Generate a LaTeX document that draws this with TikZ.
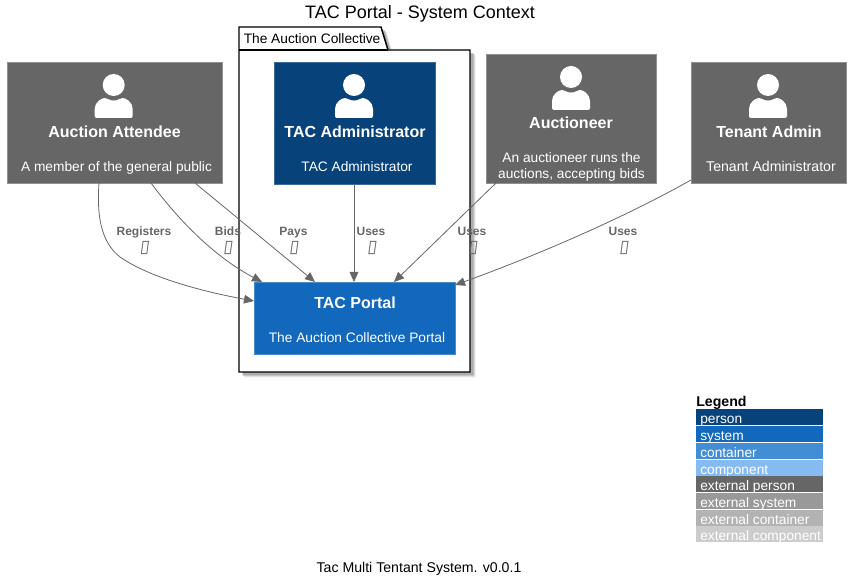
\documentclass[tikz,border=0pt]{standalone}
\usepackage{fontspec}
\setmainfont{Liberation Sans}
\newfontfamily\tofufont[FakeSlant=0.14]{DejaVu Sans}
\usetikzlibrary{arrows.meta,calc}
\definecolor{extp}{HTML}{666666}
\definecolor{extb}{HTML}{909090}
\definecolor{pers}{HTML}{08427B}
\definecolor{persb}{HTML}{3C6A99}
\definecolor{sys}{HTML}{1168BD}
\definecolor{sysb}{HTML}{4A8BCB}
\definecolor{cont}{HTML}{438DD5}
\definecolor{comp}{HTML}{85BBF0}
\definecolor{exts}{HTML}{999999}
\definecolor{extc}{HTML}{B3B3B3}
\definecolor{extk}{HTML}{CCCCCC}
\tikzset{
  x=0.75pt,y=-0.75pt,
  cardbox/.style={line width=0.7pt},
  ttl/.style={text=white,font=\fontsize{12}{14}\selectfont\bfseries,inner sep=0pt,anchor=base},
  desc/.style={text=white,font=\fontsize{10.3}{12.4}\selectfont,inner sep=0pt,align=center,anchor=base},
  rel/.style={draw=extp,line width=0.6pt,-{Triangle[length=7.5pt,width=6.5pt]}},
  rellab/.style={text=extp,font=\fontsize{9}{11}\selectfont\bfseries,inner sep=0pt,anchor=base},
  tofu/.style={text=extp,font=\fontsize{13}{15}\tofufont,inner sep=0pt,anchor=base},
  legtxt/.style={text=white,font=\fontsize{10.3}{12}\selectfont,inner sep=0pt,anchor=base west},
}
\newcommand{\personicon}[2]{%
  \fill[white] (#1,#2) circle[radius=11];
  \fill[white,rounded corners=1.5pt] (#1-19,#2+33) -- (#1-19,#2+26) .. controls (#1-19,#2+17) and (#1-12,#2+13) .. (#1-7,#2+13) .. controls (#1-3,#2+16) and (#1+3,#2+16) .. (#1+7,#2+13) .. controls (#1+12,#2+13) and (#1+19,#2+17) .. (#1+19,#2+26) -- (#1+19,#2+33) -- cycle;
}
\newcommand{\shadowlayer}[2]{%
  \fill[black!#2,shift={(#1,#1)}] (239,50) -- (239,27) -- (381,27) -- (388,50) -- (470,50) -- (470,372) -- (239,372) -- cycle;
}
\begin{document}
\begin{tikzpicture}
\useasboundingbox (0,0) rectangle (850,580);
\node[text=black,font=\fontsize{13.5}{15}\selectfont,inner sep=0pt,anchor=base] (title) at (420,18.5) {TAC Portal - System Context};
% boundary
\shadowlayer{5.5}{8}
\shadowlayer{4.5}{18}
\shadowlayer{3.5}{32}
\draw[black,line width=1.1pt,fill=white] (239,50) -- (239,27) -- (381,27) -- (388,50) -- (470,50) -- (470,372) -- (239,372) -- cycle;
\draw[black,line width=1.1pt] (239,50) -- (388,50);
\node[text=black,font=\fontsize{10.3}{12}\selectfont,inner sep=0pt,anchor=base west] (bound) at (243.5,44) {The Auction Collective};
% boxes
\draw[cardbox,fill=extp,draw=extb] (7,62) rectangle (222,183);
\draw[cardbox,fill=pers,draw=persb] (274,62) rectangle (435,184);
\draw[cardbox,fill=extp,draw=extb] (486,54) rectangle (656,183);
\draw[cardbox,fill=extp,draw=extb] (691,62) rectangle (846,183);
\draw[cardbox,fill=sys,draw=sysb] (254,282) rectangle (455,354);
\personicon{113.7}{85}
\personicon{354}{85}
\personicon{571}{77}
\personicon{768}{85}
\node[ttl] (n1) at (114.5,138) {Auction Attendee};
\node[desc] (d1) at (116.5,171.5) {A member of the general public};
\node[ttl] (n2) at (355,138) {TAC Administrator};
\node[desc] (d2) at (357,171.5) {TAC Administrator};
\node[ttl] (n3) at (571,129) {Auctioneer};
\node[desc] (d3) at (571.5,179) {An auctioneer runs the\\auctions, accepting bids};
\node[ttl] (n4) at (769,138) {Tenant Admin};
\node[font=\fontsize{10.6}{12}\selectfont,text=white,inner sep=0pt,anchor=base] (d4) at (771,171.5) {Tenant Administrator};
\node[ttl] (n5) at (355,308.5) {TAC Portal};
\node[desc] (d5) at (357,342.5) {The Auction Collective Portal};
% connectors
\coordinate (a1) at (99,183);
\coordinate (a2) at (151,183);
\coordinate (a3) at (195,183);
\coordinate (b1) at (254,301);
\coordinate (b2) at (262,282);
\coordinate (b3) at (315,282);
\coordinate (b4) at (354,282);
\coordinate (b5) at (394,282);
\coordinate (b6) at (455,285);
\draw[rel] (a1) .. controls (96,225) and (105,245) .. (120,257) .. controls (150,278) and (205,292) .. (b1);
\draw[rel] (a2) .. controls (180,222) and (215,257) .. (b2);
\draw[rel] (a3) -- (b3);
\draw[rel] (354,184) -- (b4);
\draw[rel] (496,183) -- (b5);
\draw[rel] (691,180) .. controls (620,220) and (530,258) .. (b6);
\foreach \nm/\x/\t in {r1/144/Registers,r2/228/Bids,r3/293.5/Pays,r4/371/Uses,r5/472/Uses,r6/623/Uses}{
  \node[rellab] (\nm) at (\x,235.5) {\t};
}
\foreach \nm/\x in {t1/144.5,t2/228,t3/294,t4/372,t5/473,t6/624}{
  \node[tofu] (\nm) at (\x,252.5) {▯};
}
% legend
\node[text=black,font=\fontsize{10.6}{12}\selectfont\bfseries,inner sep=0pt,anchor=base west] (leg) at (696,406.5) {Legend};
\foreach \nm/\y/\c/\t in {l1/409/pers/person,l2/426/sys/system,l3/443/cont/container,l4/460/comp/component,l5/476/extp/external person,l6/493/exts/external system,l7/510/extc/external container,l8/526/extk/external component}{
  \fill[\c] (696,\y) rectangle (823,\y+16);
  \node[legtxt] (\nm) at (700,\y+14.5) {\t};
}
\node[text=black,font=\fontsize{10.6}{12}\selectfont,inner sep=0pt,anchor=base] (foot) at (419,572.5) {Tac Multi Tentant System. v0.0.1};
\end{tikzpicture}
\end{document}
